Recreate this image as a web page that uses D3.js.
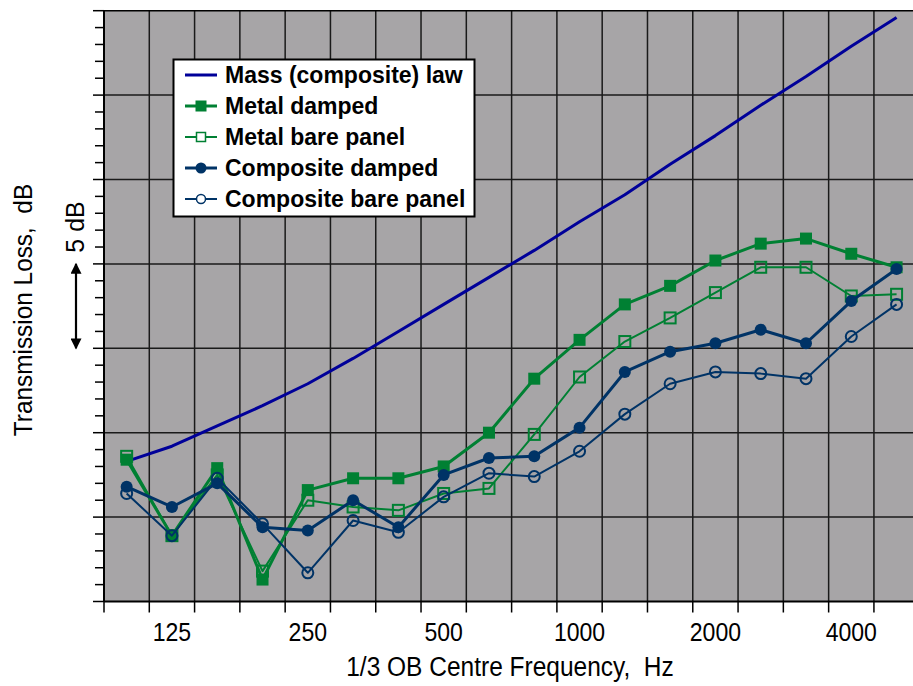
<!DOCTYPE html>
<meta charset="utf-8">
<style>
  body { margin: 0; background: #fff; }
  text { font-family: "Liberation Sans", Arial, sans-serif; white-space: pre; }
</style>

<!-- Load d3.js -->
<script src="https://d3js.org/d3.v7.min.js"></script>

<!-- Create a div where the graph will take place -->
<div id="my_dataviz"></div>

<script>
  // 1/3 octave band centre frequencies, Hz
  var freqs = ["100","125","160","200","250","315","400","500","630","800","1000","1250","1600","2000","2500","3150","4000","5000"]
  var tickLabels = ["125","250","500","1000","2000","4000"]

  // transmission loss, dB (relative)
  var massLaw     = [18.3,19.2,20.4,21.6,22.9,24.4,26.0,27.6,29.2,30.8,32.5,34.1,35.9,37.6,39.4,41.1,42.9,44.6]
  var metalDamped = [18.4,13.9,17.9,11.3,16.6,17.3,17.3,18.0,20.0,23.2,25.5,27.6,28.7,30.2,31.2,31.5,30.6,29.8]
  var metalBare   = [18.6,13.9,17.5,11.8,16.0,15.6,15.4,16.4,16.7,19.9,23.3,25.4,26.8,28.3,29.8,29.8,28.1,28.2]
  var compDamped  = [16.8,15.6,17.0,14.4,14.2,16.0,14.4,17.5,18.5,18.6,20.3,23.6,24.8,25.3,26.1,25.3,27.8,29.7]
  var compBare    = [16.4,13.9,17.3,14.6,11.7,14.8,14.1,16.2,17.6,17.4,18.9,21.1,22.9,23.6,23.5,23.2,25.7,27.6]

  var width = 913
  var height = 686
  var plotLeft = 104, plotTop = 10.7, plotBottom = 601.5
  var step = 45.29

  var svg = d3.select("#my_dataviz")
    .append("svg")
      .attr("width", width)
      .attr("height", height)

  var x = d3.scaleBand()
    .domain(freqs)
    .range([plotLeft, plotLeft + step * freqs.length])
    .padding(0)

  var y = d3.scaleLinear()
    .domain([10, 45])
    .range([plotBottom, plotTop])

  var cx = function(i){ return x(freqs[i]) + x.bandwidth() / 2 }

  // plot background
  svg.append("rect")
    .attr("x", plotLeft)
    .attr("y", plotTop)
    .attr("width", x.range()[1] - plotLeft)
    .attr("height", plotBottom - plotTop)
    .style("fill", "#a7a5a7")

  // vertical grid at band edges
  svg.append("g")
    .selectAll("line")
    .data(freqs.slice(1))
    .enter()
    .append("line")
      .attr("x1", function(d){ return x(d) })
      .attr("x2", function(d){ return x(d) })
      .attr("y1", plotTop)
      .attr("y2", plotBottom)
      .style("stroke", "#1a1a1a")
      .style("stroke-width", 1.5)

  // horizontal grid every 5 dB
  svg.append("g")
    .selectAll("line")
    .data(d3.range(15, 45, 5))
    .enter()
    .append("line")
      .attr("x1", plotLeft)
      .attr("x2", width)
      .attr("y1", function(d){ return y(d) })
      .attr("y2", function(d){ return y(d) })
      .style("stroke", "#1a1a1a")
      .style("stroke-width", 1.5)

  // frame: top, left, bottom
  svg.append("line").attr("x1", plotLeft).attr("x2", width).attr("y1", plotTop).attr("y2", plotTop)
    .style("stroke", "#000").style("stroke-width", 1.5)
  svg.append("line").attr("x1", plotLeft).attr("x2", width).attr("y1", plotBottom).attr("y2", plotBottom)
    .style("stroke", "#000").style("stroke-width", 2)
  svg.append("line").attr("x1", plotLeft).attr("x2", plotLeft).attr("y1", plotTop).attr("y2", plotBottom)
    .style("stroke", "#000").style("stroke-width", 2)

  // left ticks, 1 dB minor and 5 dB major, no labels
  svg.append("g")
    .selectAll("line")
    .data(d3.range(10, 46, 1))
    .enter()
    .append("line")
      .attr("x1", function(d){ return d % 5 == 0 ? plotLeft - 11 : plotLeft - 9 })
      .attr("x2", plotLeft)
      .attr("y1", function(d){ return y(d) })
      .attr("y2", function(d){ return y(d) })
      .style("stroke", "#000")
      .style("stroke-width", 1.5)

  // bottom ticks at band edges
  svg.append("g")
    .selectAll("line")
    .data(freqs)
    .enter()
    .append("line")
      .attr("x1", function(d){ return x(d) })
      .attr("x2", function(d){ return x(d) })
      .attr("y1", plotBottom)
      .attr("y2", plotBottom + 11)
      .style("stroke", "#000")
      .style("stroke-width", 1.5)

  // tick labels at band centres (the source font is a bit condensed)
  svg.append("g")
    .selectAll("text")
    .data(tickLabels)
    .enter()
    .append("text")
      .attr("transform", function(d){ return "translate(" + (x(d) + x.bandwidth() / 2) + ",641) scale(0.87,1)" })
      .attr("text-anchor", "middle")
      .style("font-size", "26.5px")
      .text(function(d){ return d })

  svg.append("text")
    .attr("transform", "translate(510,676) scale(0.875,1)")
    .attr("text-anchor", "middle")
    .style("font-size", "28px")
    .text("1/3 OB Centre Frequency,  Hz")

  svg.append("text")
    .attr("transform", "translate(32,310) rotate(-90) scale(0.92,1)")
    .attr("text-anchor", "middle")
    .style("font-size", "26.5px")
    .text("Transmission Loss,  dB")

  svg.append("text")
    .attr("transform", "translate(84,227) rotate(-90)")
    .attr("text-anchor", "middle")
    .style("font-size", "25px")
    .text("5 dB")

  // 5 dB double arrow
  var defs = svg.append("defs")
  defs.append("marker")
    .attr("id", "ah")
    .attr("viewBox", "0 0 10 10")
    .attr("refX", 9).attr("refY", 5)
    .attr("markerWidth", 6).attr("markerHeight", 5)
    .attr("orient", "auto-start-reverse")
    .append("path")
      .attr("d", "M0,0L10,5L0,10z")
      .style("fill", "#000")
  svg.append("line")
    .attr("x1", 76).attr("x2", 76)
    .attr("y1", y(30)).attr("y2", y(25))
    .attr("marker-start", "url(#ah)")
    .attr("marker-end", "url(#ah)")
    .style("stroke", "#000")
    .style("stroke-width", 2.2)

  var green = "#008033", navy = "#003366", blue = "#000099"

  var series = [
    { name: "Mass (composite) law", values: massLaw, color: blue, lw: 3, marker: "none" },
    { name: "Metal damped", values: metalDamped, color: green, lw: 3, marker: "fsquare" },
    { name: "Metal bare panel", values: metalBare, color: green, lw: 2, marker: "osquare" },
    { name: "Composite damped", values: compDamped, color: navy, lw: 3, marker: "fcircle" },
    { name: "Composite bare panel", values: compBare, color: navy, lw: 2, marker: "ocircle" }
  ]

  var line = d3.line()
    .x(function(d, i){ return cx(i) })
    .y(function(d){ return y(d) })

  function drawMarker(g, type, color, px, py) {
    if (type == "fsquare") {
      g.append("rect").attr("x", px - 6).attr("y", py - 6).attr("width", 12).attr("height", 12)
        .style("fill", color)
    } else if (type == "osquare") {
      g.append("rect").attr("x", px - 5.5).attr("y", py - 5.5).attr("width", 11).attr("height", 11)
        .style("fill", "none").style("stroke", color).style("stroke-width", 2)
    } else if (type == "fcircle") {
      g.append("circle").attr("cx", px).attr("cy", py).attr("r", 6).style("fill", color)
    } else if (type == "ocircle") {
      g.append("circle").attr("cx", px).attr("cy", py).attr("r", 5.5)
        .style("fill", "none").style("stroke", color).style("stroke-width", 2)
    }
  }

  series.forEach(function(s){
    var g = svg.append("g")
    g.append("path")
      .datum(s.values)
      .attr("d", line)
      .style("fill", "none")
      .style("stroke", s.color)
      .style("stroke-width", s.lw)
      .style("stroke-linejoin", "round")
    s.values.forEach(function(v, i){ drawMarker(g, s.marker, s.color, cx(i), y(v)) })
  })

  // legend
  var lg = svg.append("g")
  lg.append("rect")
    .attr("x", 173.5).attr("y", 59.5)
    .attr("width", 301).attr("height", 157)
    .style("fill", "#fff")
    .style("stroke", "#000")
    .style("stroke-width", 2)

  series.forEach(function(s, i){
    var ry = 75 + i * 31
    lg.append("line")
      .attr("x1", 185).attr("x2", 217)
      .attr("y1", ry).attr("y2", ry)
      .style("stroke", s.color)
      .style("stroke-width", s.lw)
    var mk = s.marker
    if (mk == "fsquare") lg.append("rect").attr("x", 195.5).attr("y", ry - 5.5).attr("width", 11).attr("height", 11).style("fill", s.color)
    if (mk == "osquare") lg.append("rect").attr("x", 196.5).attr("y", ry - 4.5).attr("width", 9).attr("height", 9).style("fill", "#fff").style("stroke", s.color).style("stroke-width", 1.5)
    if (mk == "fcircle") lg.append("circle").attr("cx", 201).attr("cy", ry).attr("r", 5.5).style("fill", s.color)
    if (mk == "ocircle") lg.append("circle").attr("cx", 201).attr("cy", ry).attr("r", 4.5).style("fill", "#fff").style("stroke", s.color).style("stroke-width", 1.5)
    lg.append("text")
      .attr("x", 225)
      .attr("y", ry + 8.3)
      .style("font-size", "23px")
      .style("font-weight", "bold")
      .text(s.name)
  })
</script>
